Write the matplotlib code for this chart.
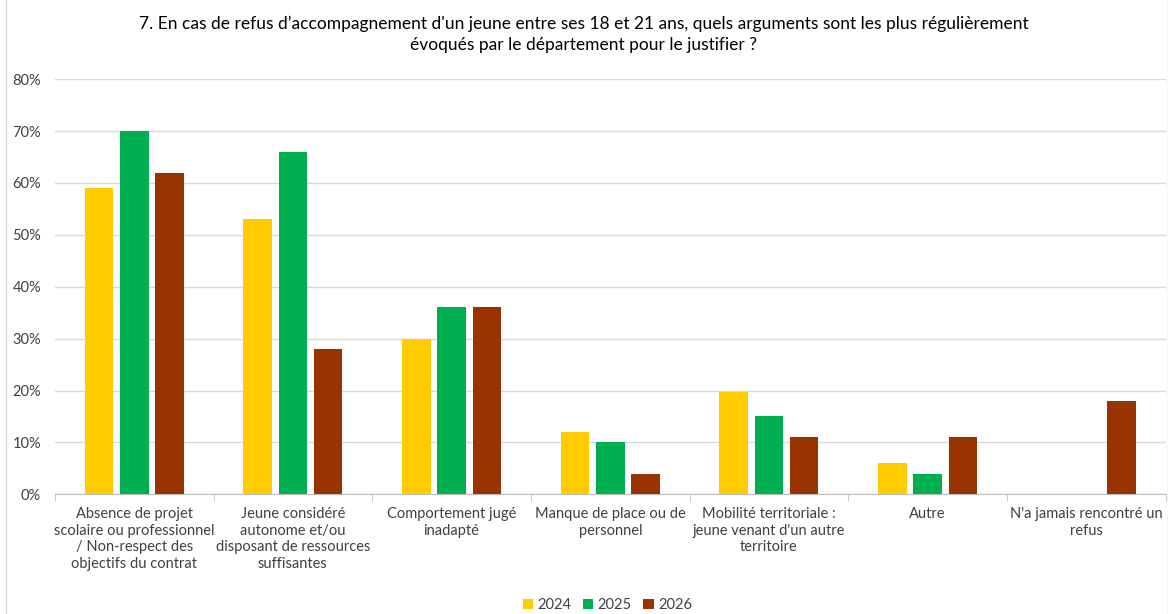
import matplotlib.pyplot as plt
import numpy as np
from matplotlib.patches import Rectangle

categories = [
    "Absence de projet\nscolaire ou professionnel\n/ Non-respect des\nobjectifs du contrat",
    "Jeune considéré\nautonome et/ou\ndisposant de ressources\nsuffisantes",
    "Comportement jugé\ninadapté",
    "Manque de place ou de\npersonnel",
    "Mobilité territoriale :\njeune venant d'un autre\nterritoire",
    "Autre",
    "N'a jamais rencontré un\nrefus",
]
years = ["2024", "2025", "2026"]
vals_2024 = [59, 53, 30, 12, 19.7, 6, 0]
vals_2025 = [70, 66, 36, 10, 15, 4, 0]
vals_2026 = [62, 28, 36, 4, 11, 11, 18]
colors = ["#FFCC00", "#00B050", "#993300"]

plt.rcParams['font.family'] = ['Lato', 'DejaVu Sans']

fig = plt.figure(figsize=(11.68, 6.14), dpi=100)
ax = fig.add_axes([0.047, 0.195, 0.951, 0.676])

x = np.arange(len(categories))
w = 0.18
step = 0.222
for i, (vals, c, lab) in enumerate(zip([vals_2024, vals_2025, vals_2026], colors, years)):
    ax.bar(x + (i - 1) * step, vals, width=w, color=c, label=lab, zorder=3)

ax.set_xlim(-0.5, len(categories) - 0.5)
ax.set_ylim(0, 80)
ax.set_yticks(range(0, 81, 10))
ax.set_yticklabels([f"{v}%" for v in range(0, 81, 10)], fontsize=10.5, color="#404040")
ax.grid(axis="y", color="#D9D9D9", linewidth=1, zorder=0)
ax.tick_params(axis="y", length=0, pad=10)

ax.set_xticks(x)
ax.set_xticklabels(categories, fontsize=10.5, color="#404040", linespacing=1.25)
ax.tick_params(axis="x", length=0, pad=9)
# small separator ticks between categories
ax.set_xticks(np.arange(-0.5, len(categories), 1), minor=True)
ax.tick_params(axis="x", which="minor", length=5, color="#BFBFBF")

for s in ["top", "right", "left"]:
    ax.spines[s].set_visible(False)
ax.spines["bottom"].set_color("#BFBFBF")

fig.suptitle("7. En cas de refus d’accompagnement d'un jeune entre ses 18 et 21 ans, quels arguments sont les plus régulièrement\névoqués par le département pour le justifier ?",
             y=0.975, fontsize=12.5, color="#000000", linespacing=1.4)

fig.legend(loc="lower center", bbox_to_anchor=(0.52, -0.018), ncol=3, frameon=False,
           fontsize=10.5, handlelength=0.7, handleheight=0.7, columnspacing=0.8,
           handletextpad=0.3, labelcolor="#404040")

fig.patches.append(Rectangle((0.005, -0.01), 0.995, 1.02, transform=fig.transFigure,
                             fill=False, edgecolor="#D9D9D9", linewidth=1))

fig.savefig("out.png", dpi=100)
